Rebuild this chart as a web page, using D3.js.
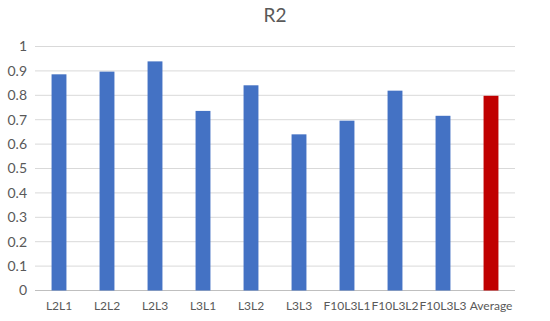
<!DOCTYPE html>
<html>
<head>
<meta charset="utf-8">
<script src="https://cdn.jsdelivr.net/npm/d3@7"></script>
<style>
  body { margin: 0; background: #fff; }
  svg text { font-family: Lato, "Open Sans", sans-serif; fill: #595959; }
</style>
</head>
<body>
<script>
const categories = ['L2L1', 'L2L2', 'L2L3', 'L3L1', 'L3L2', 'L3L3', 'F10L3L1', 'F10L3L2', 'F10L3L3', 'Average'];
const values = [0.886, 0.897, 0.939, 0.736, 0.841, 0.640, 0.696, 0.819, 0.716, 0.798];
const yTicks = [0, 0.1, 0.2, 0.3, 0.4, 0.5, 0.6, 0.7, 0.8, 0.9, 1];

const margin = {top: 46.5, bottom: 30.5, left: 35, right: 35};
const W = 550, H = 321;
const width = W - margin.left - margin.right;
const height = H - margin.top - margin.bottom;

const svg = d3.select('body').append('svg')
  .attr('width', W)
  .attr('height', H);

svg.append('text')
  .attr('x', W / 2)
  .attr('y', 22)
  .attr('text-anchor', 'middle')
  .style('font-size', '19px')
  .text('R2');

const g = svg.append('g')
  .attr('transform', `translate(${margin.left},${margin.top})`);

const x = d3.scaleBand().domain(categories).range([0, width]).paddingInner(0.69).paddingOuter(0.345);
const y = d3.scaleLinear().domain([0, 1]).range([height, 0]);

// gridlines
g.selectAll('line.grid').data(yTicks).join('line')
  .attr('class', 'grid')
  .attr('x1', 0).attr('x2', width)
  .attr('y1', d => y(d)).attr('y2', d => y(d))
  .attr('stroke', d => d === 0 ? '#bfbfbf' : '#d9d9d9')
  .attr('stroke-width', 1);

const yAxis = g.append('g')
  .call(d3.axisLeft(y).tickValues(yTicks).tickSize(0).tickPadding(8).tickFormat(d3.format('~g')));
yAxis.select('.domain').remove();
yAxis.selectAll('text').style('font-size', '14px').attr('fill', '#595959');

g.selectAll('rect').data(values).join('rect')
  .attr('x', (d, i) => x(categories[i]))
  .attr('y', d => y(d))
  .attr('width', x.bandwidth())
  .attr('height', d => height - y(d))
  .attr('fill', (d, i) => categories[i] === 'Average' ? '#C00000' : '#4472C4');

const xAxis = g.append('g')
  .attr('transform', `translate(0,${height})`)
  .call(d3.axisBottom(x).tickSize(0).tickPadding(11));
xAxis.select('.domain').remove();
xAxis.selectAll('text').style('font-size', '12px').attr('fill', '#595959');
</script>
</body>
</html>
